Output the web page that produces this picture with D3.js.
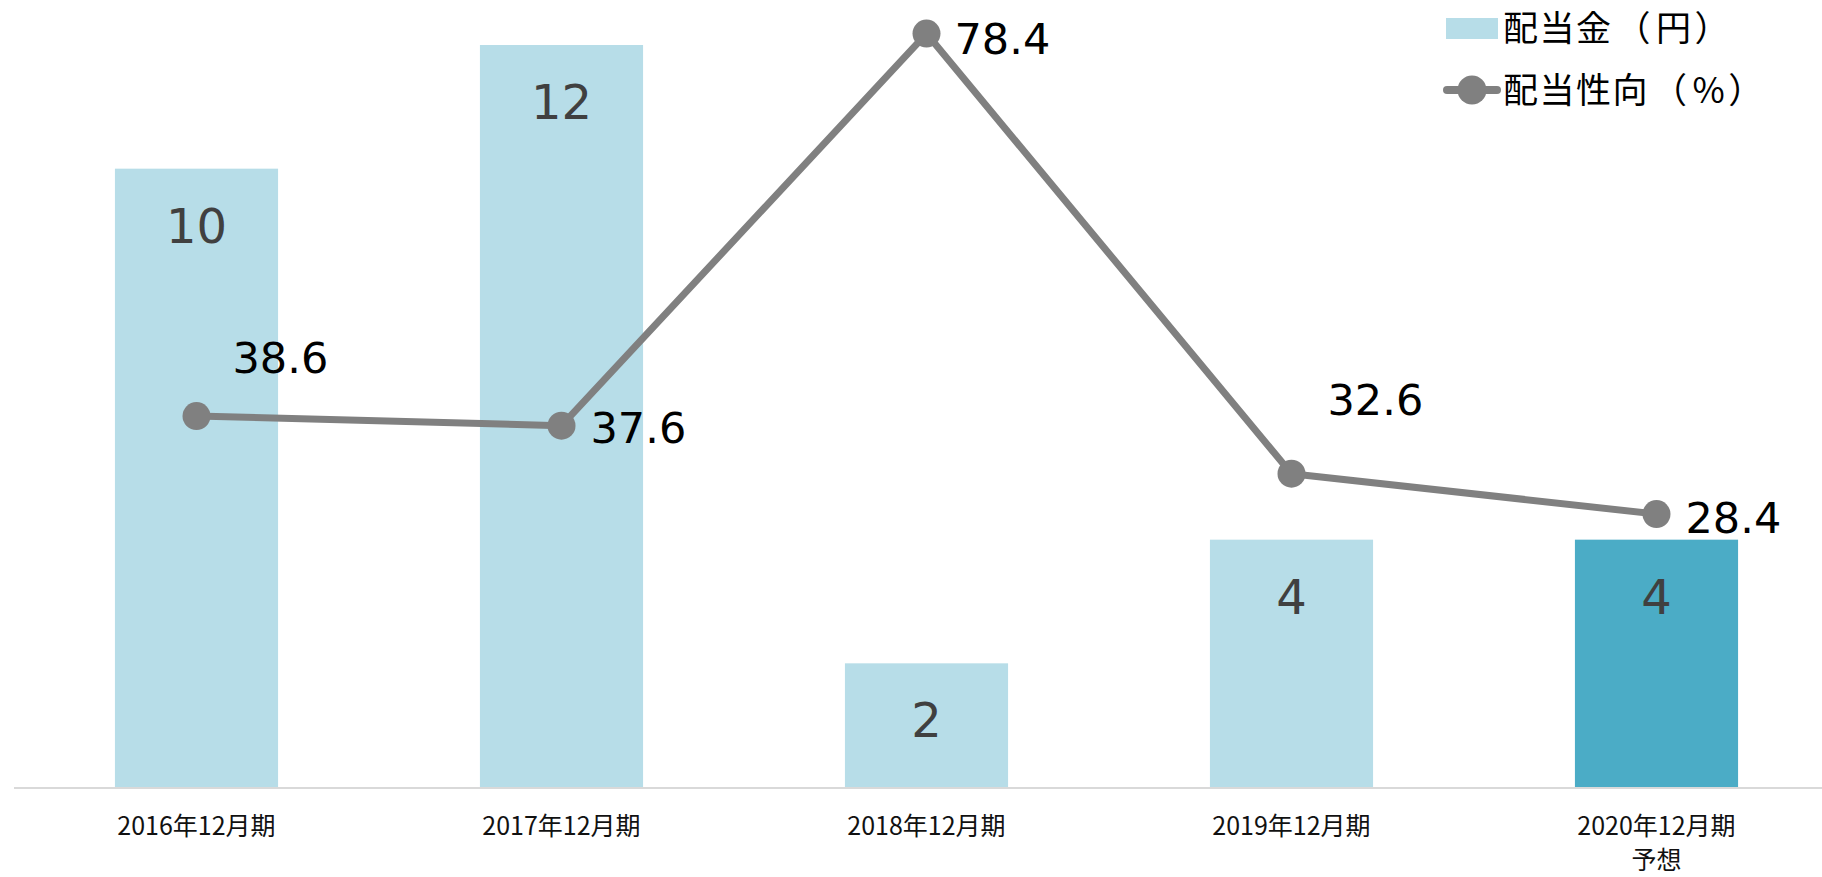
<!DOCTYPE html>
<html>
<head>
<meta charset="utf-8">
<script src="https://cdn.jsdelivr.net/npm/d3@7"></script>
<style>
  html, body { margin: 0; padding: 0; background: #fff; }
  svg { display: block; }
</style>
</head>
<body>
<div id="chart"></div>
<script>
// data
var categories = ["2016年12月期", "2017年12月期", "2018年12月期", "2019年12月期", "2020年12月期"];
var subLabels = ["", "", "", "", "予想"];
var dividend = [10, 12, 2, 4, 4];          // 配当金（円）
var payoutRatio = [38.6, 37.6, 78.4, 32.6, 28.4]; // 配当性向（%）
var forecast = [false, false, false, false, true];
var seriesNames = ["配当金（円）", "配当性向（%）"];

// label placement (style only)
var lineLabelOffset = [[36, -43], [29, 17], [28, 20], [36, -59], [29, 19]];

var width = 1822, height = 877;
var baseY = 787;

var svg = d3.select("#chart").append("svg")
    .attr("width", width)
    .attr("height", height);

// scales
var x = d3.scaleBand()
    .domain(categories)
    .range([14, 1839])
    .paddingInner(0.553)
    .paddingOuter(0.2765);

var yBar = d3.scaleLinear().domain([0, 12]).range([baseY, 45]);
var yPct = d3.scaleLinear().domain([0, 80]).range([baseY, baseY - 80 * 9.61]);

var cx = function(d, i) { return x(categories[i]) + x.bandwidth() / 2; };

// bars
svg.selectAll("rect.bar")
    .data(dividend)
    .enter().append("rect")
    .attr("class", "bar")
    .attr("x", function(d, i) { return x(categories[i]); })
    .attr("y", function(d) { return yBar(d); })
    .attr("width", x.bandwidth())
    .attr("height", function(d) { return baseY - yBar(d); })
    .attr("fill", function(d, i) { return forecast[i] ? "#4BACC6" : "#B7DDE8"; });

// axis line
svg.append("line")
    .attr("x1", 14).attr("x2", width)
    .attr("y1", baseY + 1).attr("y2", baseY + 1)
    .attr("stroke", "#D9D9D9")
    .attr("stroke-width", 2);

// category labels
var xAxis = svg.append("g").attr("class", "cats");
xAxis.selectAll("text.cat")
    .data(categories)
    .enter().append("text")
    .attr("x", function(d, i) { return cx(d, i); })
    .attr("y", 835)
    .attr("text-anchor", "middle")
    .attr("font-family", "'Noto Sans CJK JP', sans-serif")
    .attr("font-size", 25)
    .attr("fill", "#111")
    .text(function(d) { return d; });

xAxis.selectAll("text.sub")
    .data(subLabels)
    .enter().append("text")
    .attr("x", function(d, i) { return cx(d, i); })
    .attr("y", 869)
    .attr("text-anchor", "middle")
    .attr("font-family", "'Noto Sans CJK JP', sans-serif")
    .attr("font-size", 25)
    .attr("fill", "#111")
    .text(function(d) { return d; });

// bar value labels
svg.selectAll("text.barlab")
    .data(dividend)
    .enter().append("text")
    .attr("x", cx)
    .attr("y", function(d) { return yBar(d) + 74; })
    .attr("text-anchor", "middle")
    .attr("font-family", "'DejaVu Sans', Verdana, sans-serif")
    .attr("font-size", 48)
    .attr("fill", "#404040")
    .text(function(d) { return d; });

// payout ratio line
var valueline = d3.line()
    .x(function(d, i) { return cx(d, i); })
    .y(function(d) { return yPct(d); });

svg.append("path")
    .datum(payoutRatio)
    .attr("d", valueline)
    .attr("fill", "none")
    .attr("stroke", "#808080")
    .attr("stroke-width", 7)
    .attr("stroke-linejoin", "round");

svg.selectAll("circle.pt")
    .data(payoutRatio)
    .enter().append("circle")
    .attr("cx", cx)
    .attr("cy", function(d) { return yPct(d); })
    .attr("r", 14)
    .attr("fill", "#808080");

svg.selectAll("text.ptlab")
    .data(payoutRatio)
    .enter().append("text")
    .attr("x", function(d, i) { return cx(d, i) + lineLabelOffset[i][0]; })
    .attr("y", function(d, i) { return yPct(d) + lineLabelOffset[i][1]; })
    .attr("font-family", "'DejaVu Sans', Verdana, sans-serif")
    .attr("font-size", 43)
    .attr("fill", "#000")
    .text(function(d) { return d.toFixed(1); });

// legend
var legend = svg.append("g").attr("class", "legend");
legend.append("rect")
    .attr("x", 1446).attr("y", 18)
    .attr("width", 52).attr("height", 21)
    .attr("fill", "#B7DDE8");

legend.append("line")
    .attr("x1", 1447).attr("x2", 1497)
    .attr("y1", 90).attr("y2", 90)
    .attr("stroke", "#808080")
    .attr("stroke-width", 8)
    .attr("stroke-linecap", "round");
legend.append("circle")
    .attr("cx", 1472).attr("cy", 90)
    .attr("r", 14.5)
    .attr("fill", "#808080");

// split at the brackets and give them a little more room
var parenGap = [0, 3, 4, 2];
legend.selectAll("text.lg")
    .data(seriesNames)
    .enter().append("text")
    .attr("x", 1503)
    .attr("y", function(d, i) { return 41 + i * 62; })
    .attr("font-family", "'Noto Sans CJK JP', sans-serif")
    .attr("font-size", 35)
    .attr("letter-spacing", 1.5)
    .attr("fill", "#000")
    .each(function(d) {
        var k = d.indexOf("（");
        var parts = [d.slice(0, k), "（", d.slice(k + 1, d.length - 1), "）"];
        d3.select(this).selectAll("tspan")
            .data(parts)
            .enter().append("tspan")
            .attr("dx", function(p, j) { return parenGap[j]; })
            .text(function(p) { return p; });
    });
</script>
</body>
</html>
